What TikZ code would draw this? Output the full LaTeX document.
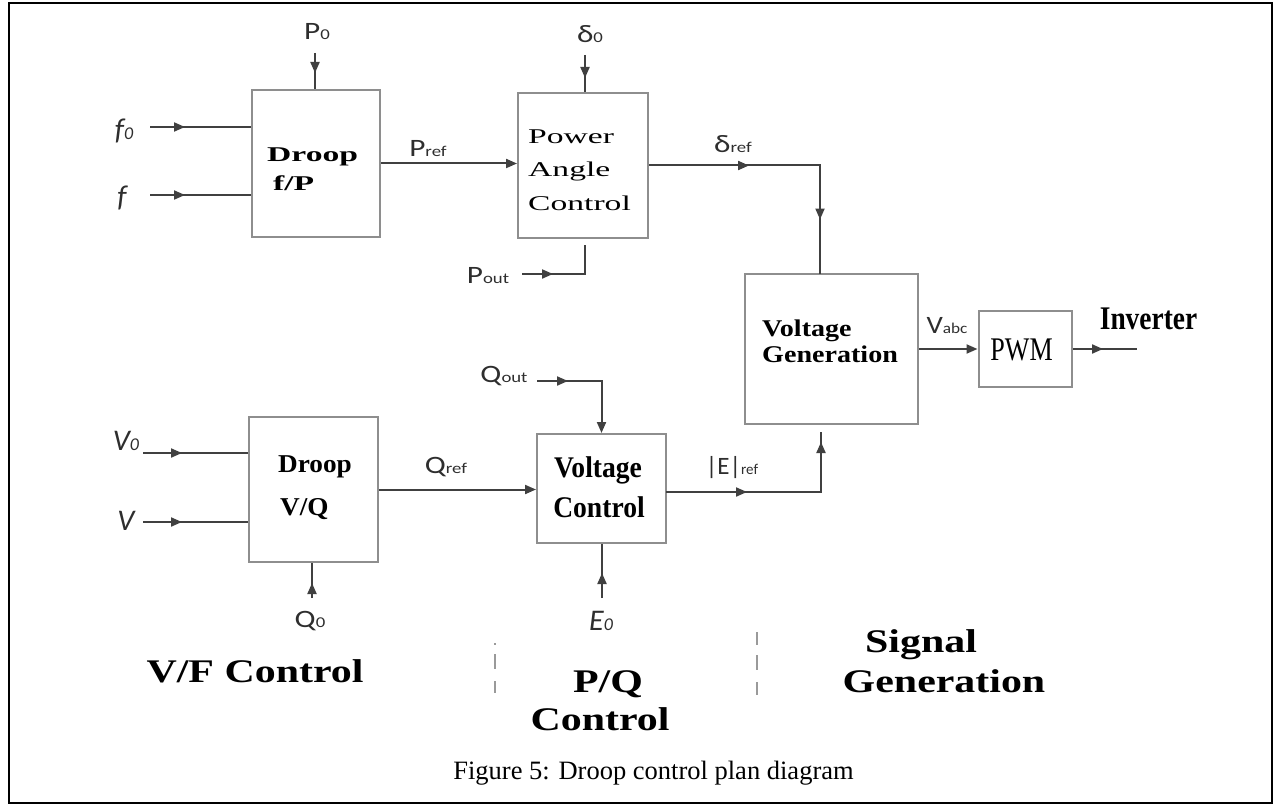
\documentclass[tikz,border=0pt]{standalone}
\usepackage{fontspec}
\setmainfont{Liberation Serif}
\newfontfamily\labfont{Carlito}
\usepackage{graphicx}
\usetikzlibrary{arrows.meta,decorations.markings}
\definecolor{linec}{HTML}{404040}
\definecolor{boxc}{HTML}{8E8E8E}
\definecolor{labc}{HTML}{2E2E2E}
\definecolor{dashc}{HTML}{9A9A9A}
\newcommand\BS[3]{\scalebox{#2}[1]{\fontsize{#1}{#1}\selectfont\bfseries #3}}
\newcommand\RS[3]{\scalebox{#2}[1]{\fontsize{#1}{#1}\selectfont #3}}
\newcommand\LB[3][1.25]{\scalebox{#1}[1]{\labfont\fontsize{25}{25}\selectfont #2{\fontsize{15}{15}\selectfont #3}}}
\newcommand\LI[2]{{\labfont\itshape\fontsize{30}{30}\selectfont #1{\fontsize{18}{18}\selectfont #2}}}
\begin{document}
\begin{tikzpicture}[x=1pt,y=-1pt,
  conn/.style={draw=linec, line width=2pt},
  midarr/.style={postaction={decorate, decoration={markings, mark=at position #1 with {\arrow{Triangle[length=11pt,width=9pt]}}}}},
  endtip/.style={-{Triangle[length=11pt,width=9pt]}},
  blk/.style={draw=boxc, line width=2pt, fill=white, inner sep=0pt, rectangle},
  txt/.style={inner sep=0pt, anchor=base, text=black},
  txtl/.style={inner sep=0pt, anchor=base west, text=black},
  lbl/.style={inner sep=0pt, anchor=base, text=labc},
  sepline/.style={draw=dashc, line width=2pt}
]
\useasboundingbox (0,0) rectangle (1273,805);
\draw[line width=2.5pt] (9,3) rectangle (1272,803);

% blocks
\node[blk, minimum width=128pt, minimum height=147pt] (dfp) at (316,163.5) {};
\node[blk, minimum width=130pt, minimum height=145pt] (pac) at (583,165.5) {};
\node[blk, minimum width=173pt, minimum height=150pt] (vg) at (831.5,349) {};
\node[blk, minimum width=93.5pt, minimum height=76pt] (pwm) at (1025.25,349) {};
\node[blk, minimum width=129pt, minimum height=145pt] (dvq) at (313.5,489.5) {};
\node[blk, minimum width=129pt, minimum height=109pt] (vc) at (601.5,488.5) {};

% block texts
\node[txtl] (t1) at (267,161) {\BS{21}{1.6}{Droop}};
\node[txtl] (t2) at (273,190) {\BS{21}{1.6}{f/P}};
\node[txtl] (t3) at (528,144) {\RS{21}{1.6}{Power}};
\node[txtl] (t4) at (528,176) {\RS{21}{1.6}{Angle}};
\node[txtl] (t5) at (528,211) {\RS{21}{1.6}{Control}};
\node[txtl] (t6) at (762,336) {\BS{24}{1.17}{Voltage}};
\node[txtl] (t7) at (762,362) {\BS{24}{1.17}{Generation}};
\node[txt] (t8) at (1021.6,360) {\RS{33}{0.79}{PWM}};
\node[txtl] (t9) at (278,472) {\BS{25.7}{1.06}{Droop}};
\node[txtl] (t10) at (280,515) {\BS{25.7}{1.06}{V/Q}};
\node[txt] (t11) at (598,477) {\BS{30}{0.92}{Voltage}};
\node[txt] (t12) at (599,517) {\BS{30}{0.92}{Control}};
\node[txt] (t13) at (1148.5,329) {\BS{33}{0.83}{Inverter}};

% section titles and caption
\node[txt] (b1) at (255,682) {\BS{33}{1.27}{V/F Control}};
\node[txt] (b2) at (608,692) {\BS{33}{1.27}{P/Q}};
\node[txt] (b3) at (600,730) {\BS{33}{1.27}{Control}};
\node[txt] (b4) at (921,652) {\BS{33}{1.27}{Signal}};
\node[txt] (b5) at (944,692) {\BS{33}{1.27}{Generation}};
\node[txt] (cap) at (653.5,779) {\RS{26.5}{1}{Figure 5: Droop control plan diagram}};

% separators
\coordinate (s1a) at (495,643);
\coordinate (s1b) at (495,693);
\coordinate (s2a) at (757,632);
\coordinate (s2b) at (757,695);
\draw[sepline, dash pattern=on 2pt off 9pt on 15pt off 12pt on 13pt] (s1a) -- (s1b);
\draw[sepline, dash pattern=on 13pt off 10pt on 15pt off 12pt on 13pt] (s2a) -- (s2b);

% signal labels
\node[lbl] (lp0) at (317,40) {\LB{P}{0}};
\node[lbl] (lpref) at (428,157) {\LB{P}{ref}};
\node[lbl] (ld0) at (590,43) {\LB{δ}{0}};
\node[lbl] (lpout) at (488,283) {\LB{P}{out}};
\node[lbl] (ldref) at (733,153) {\LB{δ}{ref}};
\node[lbl] (lqref) at (446,473) {\LB{Q}{ref}};
\node[lbl] (lq0) at (310,627) {\LB{Q}{0}};
\node[lbl] (lqout) at (504,382) {\LB{Q}{out}};
\node[lbl] (leref) at (732,474) {\LB[1.0]{|E|}{ref}};
\node[lbl] (lvabc) at (947,333) {\LB[1.15]{V}{abc}};
\node[lbl] (lf0) at (124,140) {\LI{f}{0}};
\node[lbl] (lf) at (122,206) {\LI{f}{}};
\node[lbl] (lv0) at (126,450) {\LI{V}{0}};
\node[lbl] (lv) at (126,530) {\LI{V}{}};
\node[lbl] (le0) at (601,630) {\LI{E}{0}};

% connector end points
\coordinate (f0s) at (150,127);
\coordinate (fs) at (150,195);
\coordinate (p0s) at (315,53);
\coordinate (d0s) at (585,55);
\coordinate (pouts) at (522,274);
\coordinate (pacb) at (585,238);
\coordinate (v0s) at (143,453);
\coordinate (vs) at (143,522);
\coordinate (q0s) at (312,598);
\coordinate (qouts) at (537,381);
\coordinate (e0s) at (602,598);
\coordinate (vce) at (666,492);
\coordinate (vgtop) at (820,274);
\coordinate (vgbot) at (821,432);
\coordinate (outE) at (1137,349);

% connectors
\draw[conn, midarr=35pt] (f0s) -- (f0s -| dfp.west);
\draw[conn, midarr=35pt] (fs) -- (fs -| dfp.west);
\draw[conn, midarr=20pt] (p0s) -- (p0s |- dfp.north);
\draw[conn, endtip] (dfp.east) -- (dfp.east -| pac.west);
\draw[conn, midarr=23pt] (d0s) -- (d0s |- pac.north);
\draw[conn, midarr=31pt, shorten >=7pt] (pouts) -| (pacb);
\draw[conn, midarr=100pt, midarr=225pt] (pac.east) -| (vgtop);
\draw[conn, midarr=39pt] (v0s) -- (v0s -| dvq.west);
\draw[conn, midarr=39pt] (vs) -- (vs -| dvq.west);
\draw[conn, midarr=15pt] (q0s) -- (q0s |- dvq.south);
\draw[conn, endtip] (dvq.east) -- (dvq.east -| vc.west);
\draw[conn, midarr=31pt, endtip] (qouts) -| (vc.north);
\draw[conn, midarr=25pt] (e0s) -- (e0s |- vc.south);
\draw[conn, midarr=81pt, midarr=205pt] (vce) -| (vgbot);
\draw[conn, endtip] (vg.east) -- (pwm.west);
\draw[conn, midarr=30pt] (pwm.east) -- (outE);
\end{tikzpicture}
\end{document}
